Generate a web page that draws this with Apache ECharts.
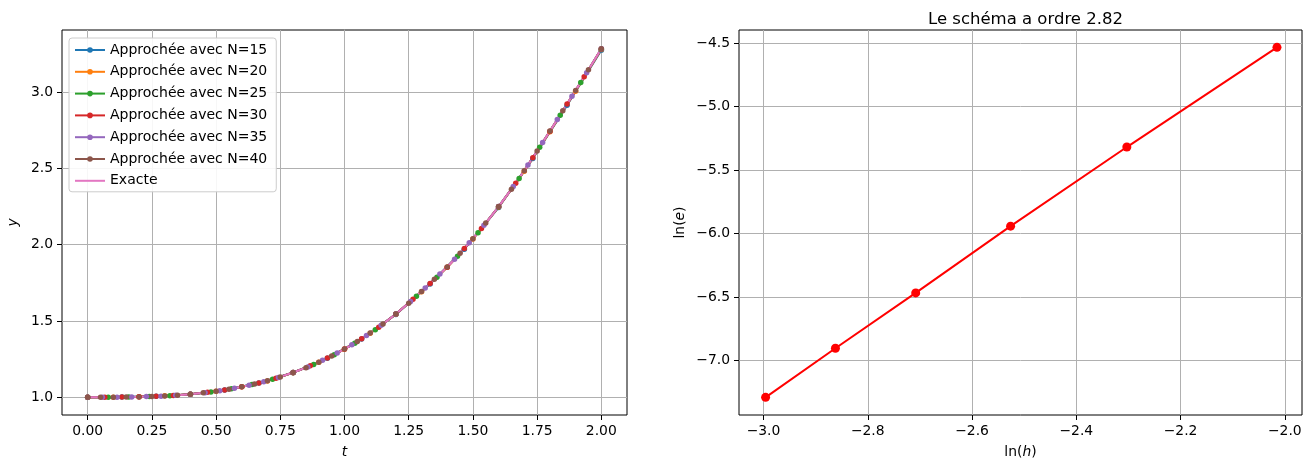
<!DOCTYPE html>
<html>
<head>
<meta charset="utf-8">
<script src="https://cdn.jsdelivr.net/npm/echarts@6/dist/echarts.min.js"></script>
<style>
html,body{margin:0;padding:0;background:#fff;}
#chart{width:1312px;height:470px;}
</style>
</head>
<body>
<div id="chart"></div>
<script>
// ---------- data ----------
const N_VALUES = [15, 20, 25, 30, 35, 40];
const seriesNames = ['Approchée avec N=15','Approchée avec N=20','Approchée avec N=25','Approchée avec N=30','Approchée avec N=35','Approchée avec N=40'];
const approx15 = [1.000,1.001,1.006,1.020,1.048,1.093,1.161,1.255,1.382,1.543,1.743,1.971,2.244,2.565,2.914,3.275];
const approx20 = [1.000,1.000,1.003,1.009,1.020,1.040,1.068,1.107,1.161,1.229,1.315,1.420,1.544,1.692,1.852,2.037,2.247,2.481,2.741,3.007,3.280];
const approx25 = [1.000,1.000,1.001,1.004,1.010,1.020,1.035,1.055,1.083,1.118,1.162,1.215,1.279,1.354,1.443,1.545,1.662,1.787,1.924,2.079,2.248,2.435,2.639,2.849,3.064,3.282];
const approx30 = [1.000,1.000,1.001,1.003,1.006,1.012,1.020,1.032,1.048,1.068,1.094,1.125,1.162,1.206,1.257,1.316,1.383,1.459,1.545,1.642,1.746,1.853,1.975,2.107,2.249,2.403,2.571,2.744,2.922,3.101,3.284];
const approx35 = [1.000,1.000,1.000,1.002,1.004,1.007,1.013,1.020,1.030,1.043,1.059,1.078,1.102,1.130,1.162,1.199,1.242,1.290,1.344,1.404,1.472,1.546,1.628,1.717,1.808,1.905,2.013,2.127,2.250,2.381,2.522,2.671,2.821,2.974,3.128,3.285];
const approx40 = [1.000,1.000,1.000,1.001,1.002,1.005,1.008,1.013,1.020,1.029,1.040,1.053,1.068,1.087,1.108,1.133,1.162,1.194,1.230,1.271,1.316,1.366,1.421,1.481,1.546,1.617,1.694,1.773,1.854,1.944,2.040,2.142,2.250,2.364,2.485,2.615,2.745,2.878,3.012,3.147,3.285];
const exactT = [0,0.05,0.1,0.15,0.2,0.25,0.3,0.35,0.4,0.45,0.5,0.55,0.6,0.65,0.7,0.75,0.8,0.85,0.9,0.95,1.0,1.05,1.1,1.15,1.2,1.25,1.3,1.35,1.4,1.45,1.5,1.55,1.6,1.65,1.7,1.75,1.8,1.85,1.9,1.95,2.0];
const exactY = [1.0000,1.0000,1.0003,1.0011,1.0025,1.0049,1.0085,1.0135,1.0202,1.0288,1.0395,1.0526,1.0683,1.0868,1.1084,1.1333,1.1618,1.1941,1.2304,1.2709,1.316,1.3658,1.4206,1.4806,1.546,1.6172,1.694,1.773,1.854,1.944,2.040,2.142,2.250,2.364,2.485,2.615,2.745,2.878,3.012,3.147,3.285];

const lnH = [-2.996, -2.862, -2.708, -2.526, -2.303, -2.015];
const lnE = [-7.292, -6.905, -6.468, -5.942, -5.318, -4.532];

const leftXTicks = [0, 0.25, 0.5, 0.75, 1.0, 1.25, 1.5, 1.75, 2.0];
const leftYTicks = [1.0, 1.5, 2.0, 2.5, 3.0];
const rightXTicks = [-3.0, -2.8, -2.6, -2.4, -2.2, -2.0];
const rightYTicks = [-7.0, -6.5, -6.0, -5.5, -5.0, -4.5];
const titleText = 'Le schéma a ordre 2.82';

// ---------- styling ----------
const colors = ['#1f77b4','#ff7f0e','#2ca02c','#d62728','#9467bd','#8c564b'];
const exactColor = '#e377c2';
const FONT = 'DejaVu Sans';
const FS = 13.9;
const fmt = d => v => (v < 0 ? '\u2212' : '') + Math.abs(v).toFixed(d);

function valueAxis(idx, min, max, ticks, digits, name, nameGap) {
  return {
    type: 'value', gridIndex: idx, min: min, max: max, scale: true,
    axisLine: { show: false, onZero: false },
    axisTick: { show: true, inside: false, length: 5, lineStyle: { color: '#000', width: 1 }, customValues: ticks },
    axisLabel: { color: '#000', fontFamily: FONT, fontSize: FS, margin: 9, formatter: fmt(digits), customValues: ticks, showMinLabel: true, showMaxLabel: true },
    splitLine: { show: true, lineStyle: { color: '#b0b0b0', width: 1 } },
    name: name, nameLocation: 'middle', nameGap: nameGap,
    nameTextStyle: { color: '#000', fontFamily: FONT, fontSize: FS,
      rich: {
        a: { fontFamily: FONT, fontSize: FS, color: '#000' },
        i: { fontFamily: FONT, fontSize: FS, fontStyle: 'italic', color: '#000' }
      } }
  };
}

const approxAll = [approx15, approx20, approx25, approx30, approx35, approx40];
const series = approxAll.map((arr, i) => ({
  type: 'line', name: seriesNames[i], xAxisIndex: 0, yAxisIndex: 0,
  data: arr.map((v, k) => [k * 2 / N_VALUES[i], v]),
  symbol: 'circle', symbolSize: 5.5, showSymbol: true,
  lineStyle: { width: 2, color: colors[i] }, itemStyle: { color: colors[i] },
  emphasis: { disabled: true }, animation: false
}));
series.push({
  type: 'line', name: 'Exacte', xAxisIndex: 0, yAxisIndex: 0,
  data: exactT.map((t, k) => [t, exactY[k]]),
  symbol: 'none', showSymbol: false,
  lineStyle: { width: 2, color: exactColor }, itemStyle: { color: exactColor },
  emphasis: { disabled: true }, animation: false
});
series.push({
  type: 'line', name: 'ordre', xAxisIndex: 1, yAxisIndex: 1,
  data: lnH.map((x, k) => [x, lnE[k]]),
  symbol: 'circle', symbolSize: 9, showSymbol: true,
  lineStyle: { width: 2, color: '#ff0000' }, itemStyle: { color: '#ff0000' },
  emphasis: { disabled: true }, animation: false
});

const legendData = seriesNames.map(n => ({ name: n })).concat([{ name: 'Exacte', itemStyle: { opacity: 0 } }]);

const chart = echarts.init(document.getElementById('chart'), null, { renderer: 'canvas' });
chart.setOption({
  animation: false,
  backgroundColor: '#fff',
  title: {
    text: titleText, left: 1020.5, top: 6, textAlign: 'center',
    textStyle: { fontFamily: FONT, fontSize: 16.5, fontWeight: 'normal', color: '#000' }
  },
  legend: {
    orient: 'vertical', left: 69, top: 38,
    data: legendData,
    itemWidth: 30, itemHeight: 7, itemGap: 7.8,
    padding: [5, 9, 4, 5],
    backgroundColor: 'rgba(255,255,255,0.9)', borderColor: '#cccccc', borderWidth: 1, borderRadius: 3,
    textStyle: { fontFamily: FONT, fontSize: 14, color: '#000' },
    selectedMode: false
  },
  grid: [
    { left: 62, top: 30, width: 565, height: 385, show: true, borderColor: '#000', borderWidth: 1, backgroundColor: 'transparent' },
    { left: 739, top: 30, width: 563, height: 385, show: true, borderColor: '#000', borderWidth: 1, backgroundColor: 'transparent' }
  ],
  xAxis: [
    valueAxis(0, -0.1, 2.1, leftXTicks, 2, '{i|t}', 30),
    valueAxis(1, -3.047, -1.967, rightXTicks, 1, '{a|ln(}{i|h}{a|)}', 30)
  ],
  yAxis: [
    valueAxis(0, 0.8835, 3.408, leftYTicks, 1, '{i|y}', 42),
    valueAxis(1, -7.431, -4.395, rightYTicks, 1, '{a|ln(}{i|e}{a|)}', 52)
  ],
  series: series
});
</script>
</body>
</html>
